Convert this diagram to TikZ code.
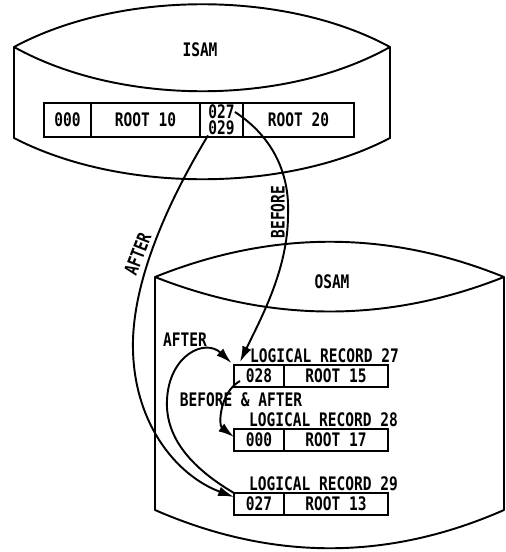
\documentclass[tikz,border=0pt]{standalone}
\usepackage{fontspec}
\setmainfont{DejaVu Sans Mono}[FakeStretch=0.78]
\usetikzlibrary{positioning,arrows.meta}
\tikzset{
  drum/.style={line width=1.1pt, line join=round},
  cell/.style={draw, line width=1.1pt, outer sep=0pt, inner sep=0pt,
               minimum height=4.4mm, font=\bfseries\fontsize{10.6}{11}\selectfont},
  bigcell/.style={cell, minimum height=6.8mm},
  tag/.style={inner sep=1pt, font=\bfseries\fontsize{10.6}{11}\selectfont},
  link/.style={-{Latex[length=9pt,width=5.5pt]}, line width=1.1pt},
}

\begin{document}
\begin{tikzpicture}[x=0.2mm, y=-0.2mm]
  \useasboundingbox (0,0) rectangle (506,552);
  \draw[drum] (14,47) .. controls (120,-10) and (285,-10) .. (390,47)
    .. controls (285,106) and (120,106) .. (14,47) -- (14,138)
    .. controls (120,193) and (285,193) .. (390,138) -- (390,47);
  \draw[drum] (155,277) .. controls (272,230) and (388,230) .. (504,277)
    .. controls (388,323) and (272,323) .. (155,277) -- (155,510)
    .. controls (272,561) and (388,561) .. (504,510) -- (504,277);
  \node[tag] (isam) at (200,50) {ISAM};
  \node[tag] (osam) at (332,282) {OSAM};

  \node[bigcell, minimum width=9.4mm] (i000) at (67.5,120) {000};
  \node[bigcell, minimum width=21.8mm, right=0pt of i000] (iroot10) {ROOT 10};
  \node[bigcell, minimum width=8.6mm, right=0pt of iroot10] (iptr) {};
  \node[bigcell, minimum width=22.2mm, right=0pt of iptr] (iroot20) {ROOT 20};
  \node[tag, inner sep=0pt] (i027) at ([yshift=-1.8mm]iptr.north) {027};
  \node[tag, inner sep=0pt] (i029) at ([yshift=1.8mm]iptr.south) {029};

  \node[cell, minimum width=10mm] (r27p) at (259,376) {028};
  \node[cell, minimum width=20.8mm, right=0pt of r27p] (r27r) {ROOT 15};
  \node[tag, anchor=south west] (l27) at ([xshift=2.8mm]r27p.north west) {LOGICAL RECORD 27};
  \node[cell, minimum width=10mm] (r28p) at (259,440) {000};
  \node[cell, minimum width=20.8mm, right=0pt of r28p] (r28r) {ROOT 17};
  \node[tag, anchor=south west] (l28) at ([xshift=2.6mm]r28p.north west) {LOGICAL RECORD 28};
  \node[cell, minimum width=10mm] (r29p) at (259,504) {027};
  \node[cell, minimum width=20.8mm, right=0pt of r29p] (r29r) {ROOT 13};
  \node[tag, anchor=south west] (l29) at ([xshift=2.6mm]r29p.north west) {LOGICAL RECORD 29};

  \draw[link] (i027.east) .. controls (270,135) and (290,170) .. (288,215)
    .. controls (288,270) and (260,320) .. ([xshift=1.2mm,yshift=0.6mm]r27p.north west);
  \node[tag, rotate=90, anchor=south] (before) at (287,212) {BEFORE};
  \draw[link] (i029.south west) .. controls (175,190) and (135,270) .. (133,340)
    .. controls (131,420) and (175,475) .. ([yshift=-0.8mm]r29p.north west);
  \node[tag, rotate=69, anchor=south] (after) at (146,257) {AFTER};
  \draw[link] (r29p.north west) .. controls (195,470) and (165,440) .. (167,400)
    .. controls (169,355) and (205,338) .. ([xshift=-0.5mm,yshift=0.4mm]r27p.north west);
  \node[tag] (loopafter) at (185,340) {AFTER};
  \draw[link] ([xshift=1.2mm,yshift=1.2mm]r27p.south west) .. controls (220,392) and (218,425)
    .. ([yshift=-1.6mm]r28p.north west);
  \node[tag] (both) at (241,400) {BEFORE \& AFTER};
\end{tikzpicture}
\end{document}
